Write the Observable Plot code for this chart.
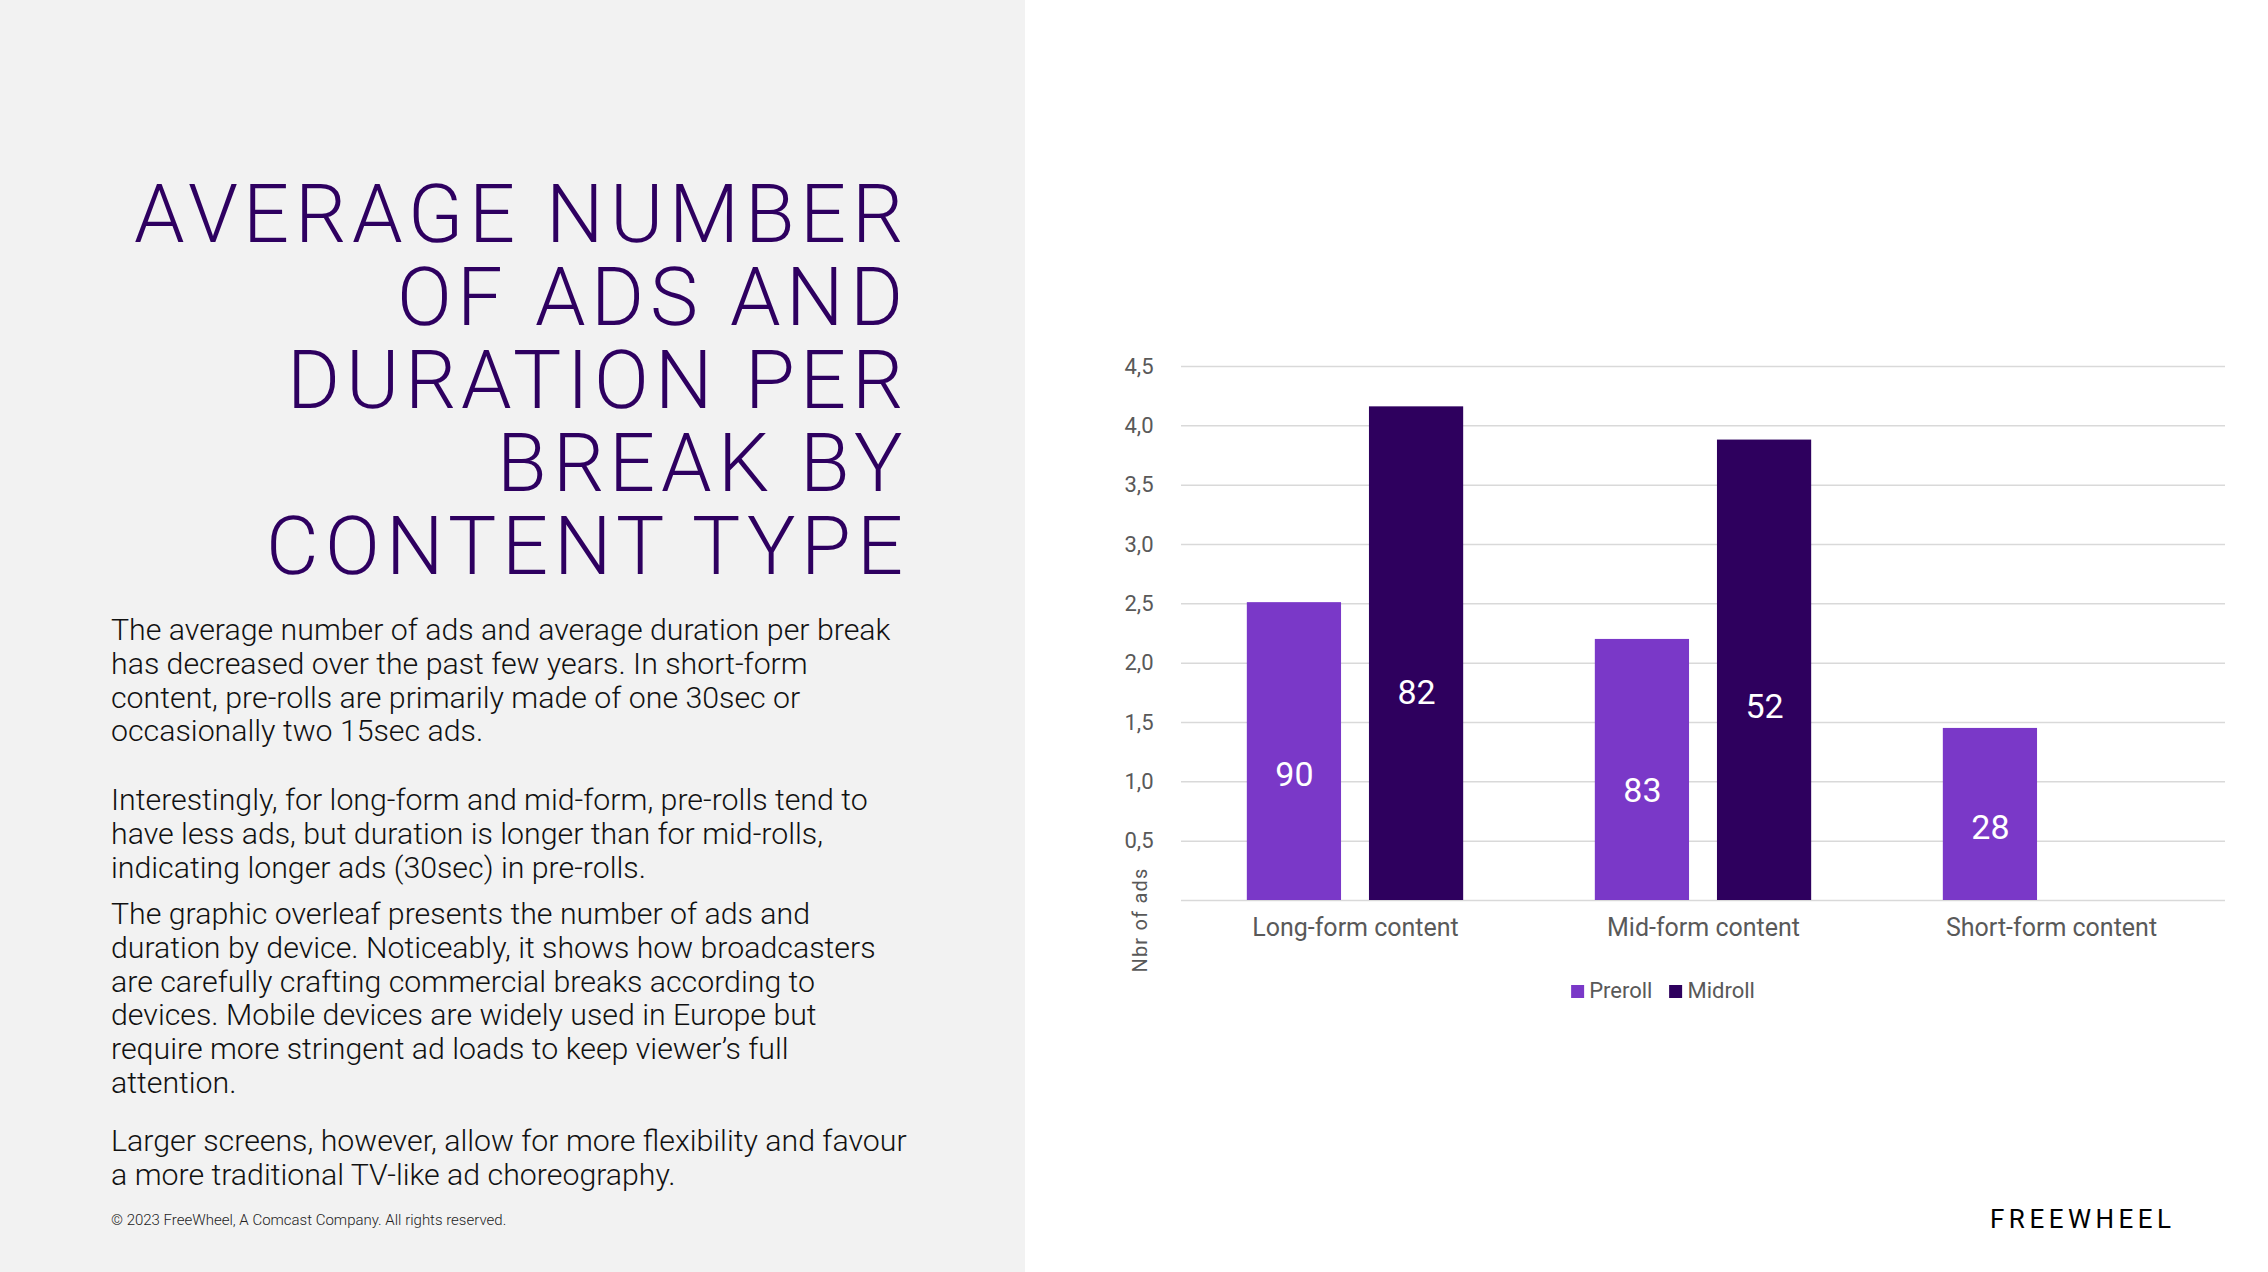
<!DOCTYPE html>
<html>
<head>
<meta charset="utf-8">
<script src="https://cdn.jsdelivr.net/npm/d3@7"></script>
<script src="https://cdn.jsdelivr.net/npm/@observablehq/plot@0.6"></script>
<style>
  @font-face {
    font-family: "TitleFace";
    src: local("Roboto Light"), local("Roboto-Light");
    font-weight: 300;
    ascent-override: 78%;
    descent-override: 20%;
    line-gap-override: 0%;
  }
  html, body { margin: 0; padding: 0; }
  body { width: 2268px; height: 1272px; position: relative; background: #ffffff; overflow: hidden; font-family: "Roboto", sans-serif; }
  #left { position: absolute; left: 0; top: 0; width: 1025px; height: 1272px; background: #f2f2f2; }
  #title { position: absolute; left: 0; top: 177px; width: 908.7px; }
  #title .tl { height: 83px; text-align: right; color: #2e0060; font-family: "TitleFace", "Roboto"; font-weight: 300; font-size: 81px; line-height: 83px; letter-spacing: 5.7px; white-space: nowrap; }
  .para { position: absolute; left: 111px; font-family: "Roboto"; font-weight: 300; font-size: 30.3px; line-height: 33.8px; color: #111; white-space: nowrap; }
  #copy { position: absolute; left: 111px; top: 1211px; font-size: 15px; line-height: 18px; color: #222; font-weight: 300; white-space: nowrap; }
  #chart { position: absolute; left: 1090px; top: 330px; }
  #ytitle { position: absolute; left: 1140px; top: 920px; transform: translate(-50%, -50%) rotate(-90deg); font-size: 20px; color: #595959; letter-spacing: 0.06em; white-space: nowrap; }
  #legend { position: absolute; top: 977px; left: 1663px; transform: translateX(-50%); display: flex; align-items: center; font-size: 22px; line-height: 28px; color: #595959; white-space: nowrap; }
  #legend .sw { width: 13px; height: 13px; display: inline-block; margin-right: 5px; }
  #legend .item { display: flex; align-items: center; }
  #legend .item + .item { margin-left: 17px; }
  #logo { position: absolute; left: 1990px; top: 1204px; font-size: 26px; line-height: 30px; letter-spacing: 4.5px; color: #000; font-weight: 400; white-space: nowrap; }
</style>
</head>
<body>
<div id="left"></div>
<div id="title">
  <div class="tl">AVERAGE NUMBER</div>
  <div class="tl">OF ADS AND</div>
  <div class="tl">DURATION PER</div>
  <div class="tl">BREAK BY</div>
  <div class="tl">CONTENT TYPE</div>
</div>
<div class="para" style="top:613px">The average number of ads and average duration per break<br>has decreased over the past few years. In short-form<br>content, pre-rolls are primarily made of one 30sec or<br>occasionally two 15sec ads.</div>
<div class="para" style="top:783px">Interestingly, for long-form and mid-form, pre-rolls tend to<br>have less ads, but duration is longer than for mid-rolls,<br>indicating longer ads (30sec) in pre-rolls.</div>
<div class="para" style="top:897px">The graphic overleaf presents the number of ads and<br>duration by device. Noticeably, it shows how broadcasters<br>are carefully crafting commercial breaks according to<br>devices. Mobile devices are widely used in Europe but<br>require more stringent ad loads to keep viewer’s full<br>attention.</div>
<div class="para" style="top:1124px">Larger screens, however, allow for more flexibility and favour<br>a more traditional TV-like ad choreography.</div>
<div id="copy">© 2023 FreeWheel, A Comcast Company. All rights reserved.</div>
<div id="chart"></div>
<div id="ytitle">Nbr of ads</div>
<div id="legend"></div>
<div id="logo">FREEWHEEL</div>
<script>
// ---- data ----
const categories = ["Long-form content", "Mid-form content", "Short-form content"];
const series = ["Preroll", "Midroll"];
const seriesColors = ["#7a38c8", "#2e005e"];
const prerollAds = [2.51, 2.2, 1.45];
const midrollAds = [4.16, 3.88, null];
const prerollDuration = [90, 83, 28];
const midrollDuration = [82, 52, null];
const yTicks = [0, 0.5, 1, 1.5, 2, 2.5, 3, 3.5, 4, 4.5];

const rows = [];
categories.forEach((c, i) => {
  if (prerollAds[i] != null) rows.push({category: c, series: "Preroll", ads: prerollAds[i], duration: prerollDuration[i]});
  if (midrollAds[i] != null) rows.push({category: c, series: "Midroll", ads: midrollAds[i], duration: midrollDuration[i]});
});

const fmt = d => d.toFixed(1).replace(".", ",");

const chart = Plot.plot({
  width: 1158,
  height: 620,
  marginLeft: 91,
  marginRight: 23,
  marginTop: 36,
  marginBottom: 50,
  style: {fontFamily: "Roboto", background: "transparent", color: "#595959", overflow: "visible"},
  fx: {domain: categories, padding: 0, label: null},
  x: {domain: series, paddingInner: 0.2286, paddingOuter: 0.539, round: false, axis: null},
  y: {domain: [0, 4.5], label: null},
  color: {domain: series, range: seriesColors},
  marks: [
    Plot.gridY(yTicks, {stroke: "#d9d9d9", strokeOpacity: 1, strokeWidth: 1.5}),
    Plot.barY(rows, {fx: "category", x: "series", y: "ads", fill: "series"}),
    Plot.text(rows, {fx: "category", x: "series", y: d => d.ads * 0.42, text: d => String(d.duration), fill: "white", fontSize: 34}),
    Plot.axisY(yTicks.filter(t => t > 0), {tickSize: 0, tickPadding: 28, tickFormat: fmt, fontSize: 22, label: null}),
    Plot.axisFx({anchor: "bottom", tickSize: 0, tickPadding: 18, fontSize: 25, label: null})
  ]
});
document.getElementById("chart").appendChild(chart);

// legend
const legend = document.getElementById("legend");
series.forEach((s, i) => {
  const item = document.createElement("span");
  item.className = "item";
  const sw = document.createElement("span");
  sw.className = "sw";
  sw.style.background = seriesColors[i];
  item.appendChild(sw);
  item.appendChild(document.createTextNode(s));
  legend.appendChild(item);
});
</script>
</body>
</html>
